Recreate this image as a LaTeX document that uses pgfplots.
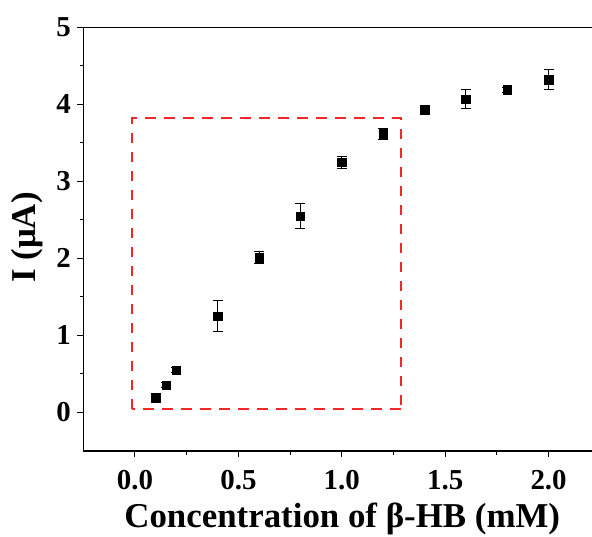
\documentclass[border=0pt]{standalone}
\usepackage{fontspec}
\setmainfont{Liberation Serif}
\usepackage{pgfplots}
\usepackage{pgfplotstable}
\pgfplotsset{compat=1.18}
\definecolor{boxred}{RGB}{240,40,40}
\pgfplotstableread{
x y ey
0.10 0.19 0.03
0.15 0.355 0.03
0.20 0.55 0.03
0.40 1.25 0.20
0.60 2.01 0.08
0.80 2.55 0.16
1.00 3.25 0.08
1.20 3.62 0.07
1.40 3.93 0.03
1.60 4.07 0.12
1.80 4.19 0.03
2.00 4.32 0.13
}\datatable
\begin{document}
\begin{tikzpicture}
\begin{axis}[
  scale only axis, width=508.7bp, height=423.7bp,
  xmin=-0.25, xmax=2.21, ymin=-0.5, ymax=5,
  axis y line*=left,
  xtick pos=bottom, ytick pos=left,
  xtick={0,0.5,1,1.5,2}, ytick={0,1,2,3,4,5},
  xticklabels={0.0,0.5,1.0,1.5,2.0},
  minor x tick num=1, minor y tick num=1,
  tick align=outside,
  major tick length=6bp, minor tick length=3.5bp,
  every tick/.style={black, line width=1bp},
  axis line style={line width=1.2bp},
  ticklabel style={font=\fontsize{29}{29}\selectfont\bfseries},
  xticklabel style={anchor=base, yshift=-32bp},
  yticklabel style={xshift=-3bp},
  /pgf/number format/assume math mode=true,
  xlabel={Concentration of β-HB (mM)},
  ylabel={I (μA)},
  label style={font=\fontsize{35}{35}\selectfont\bfseries},
  xlabel style={at={(axis description cs:0.509,-0.1794)}, anchor=base},
  ylabel style={at={(axis description cs:-0.093,0.504)}, anchor=base},
  clip=false,
]
\addplot[draw=boxred, line width=1.8bp, dash pattern=on 10.5bp off 8.5bp, mark=none, sharp plot] coordinates {(-0.015,0.045) (-0.015,3.82) (1.285,3.82) (1.285,0.045)};
\addplot[draw=boxred, line width=1.8bp, dash pattern=on 10.5bp off 8.5bp, mark=none, sharp plot] coordinates {(1.285,0.045) (-0.015,0.045)};
\addplot[only marks, mark=square*, mark size=4.2bp, black,
  error bars/.cd, y dir=both, y explicit,
  error bar style={line width=0.9bp, black},
  error mark options={rotate=90, mark size=5bp, line width=0.9bp, black}]
  table[x=x, y=y, y error=ey] {\datatable};
\end{axis}
\pgfresetboundingbox
\path (-83.3bp,-86bp) rectangle (508.7bp,451bp);
\end{tikzpicture}
\end{document}
